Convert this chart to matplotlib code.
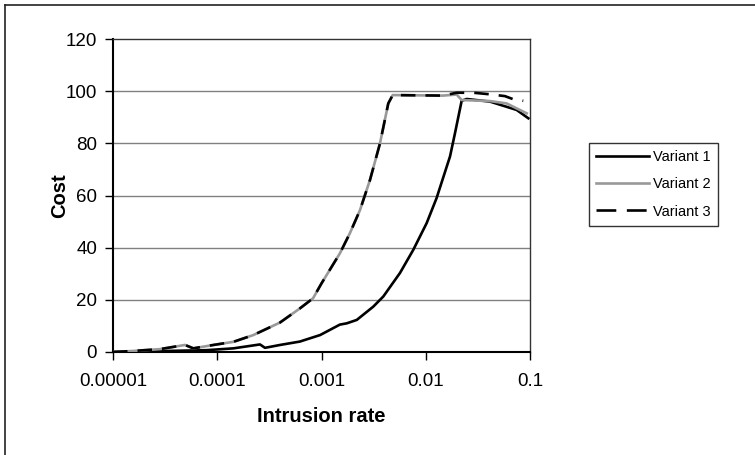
import matplotlib
matplotlib.use("Agg")
import matplotlib.pyplot as plt
from matplotlib.lines import Line2D

plt.rcParams['font.family'] = ['Liberation Sans', 'DejaVu Sans']

# ---- data ----
v1_x = [1e-5, 7.9e-5, 1.43e-4, 2.57e-4, 2.87e-4, 4.0e-4, 6.2e-4, 9.7e-4, 1.5e-3, 1.75e-3,
        2.18e-3, 3.14e-3, 3.92e-3, 5.66e-3, 7.6e-3, 1.02e-2, 1.27e-2, 1.71e-2, 1.91e-2,
        2.21e-2, 2.47e-2, 4.13e-2, 5.97e-2, 7.45e-2, 9.64e-2]
v1_y = [0.0, 0.7, 1.4, 2.9, 1.6, 2.7, 4.0, 6.5, 10.5, 11.0,
        12.3, 17.4, 21.3, 30.3, 39.2, 49.4, 59.0, 75.0, 84.0,
        96.3, 97.0, 96.0, 94.0, 92.8, 89.6]

v2_x = [1e-5, 1.57e-5, 2.82e-5, 4.91e-5, 5.89e-5, 9.2e-5, 1.43e-4, 2.22e-4, 4.0e-4,
        6.2e-4, 8.3e-4, 1.0e-3, 1.5e-3, 1.87e-3, 2.34e-3, 2.92e-3, 3.64e-3, 4.37e-3,
        4.82e-3, 1.46e-2, 1.98e-2, 2.21e-2, 4.13e-2, 5.97e-2, 9.3e-2]
v2_y = [0.0, 0.4, 1.1, 2.7, 1.4, 2.7, 3.9, 6.5, 11.3,
        16.7, 20.6, 26.3, 37.8, 45.5, 54.4, 66.0, 80.0, 95.3,
        98.5, 98.3, 98.7, 96.6, 96.2, 95.3, 91.5]

v3_x = [1e-5, 1.57e-5, 2.82e-5, 4.91e-5, 5.89e-5, 9.2e-5, 1.43e-4, 2.22e-4, 4.0e-4,
        6.2e-4, 8.3e-4, 1.0e-3, 1.5e-3, 1.87e-3, 2.34e-3, 2.92e-3, 3.64e-3, 4.37e-3,
        4.82e-3, 1.46e-2, 1.98e-2, 2.86e-2, 4.13e-2, 5.75e-2, 6.92e-2, 8.62e-2]
v3_y = [0.0, 0.4, 1.1, 2.7, 1.4, 2.7, 3.9, 6.5, 11.3,
        16.7, 20.6, 26.3, 37.8, 45.5, 54.4, 66.0, 80.0, 95.3,
        98.5, 98.3, 99.4, 99.4, 98.8, 98.1, 96.9, 96.3]

series_names = ["Variant 1", "Variant 2", "Variant 3"]
x_ticks = [1e-5, 1e-4, 1e-3, 1e-2, 1e-1]
x_tick_labels = ["0.00001", "0.0001", "0.001", "0.01", "0.1"]
y_ticks = [0, 20, 40, 60, 80, 100, 120]

W, H = 755, 455
fig = plt.figure(figsize=(W / 100, H / 100), dpi=100)
fig.patch.set_facecolor('white')

ax = fig.add_axes([113 / W, 1 - 352 / H, (530 - 113) / W, (352 - 39) / H])
ax.set_xscale('log')
ax.set_xlim(1e-5, 1e-1)
ax.set_ylim(0, 120)

lw = 1.9
ax.plot(v1_x, v1_y, color='black', lw=lw, solid_joinstyle='round', zorder=3)
ax.plot(v2_x, v2_y, color='#999999', lw=lw, solid_joinstyle='round', zorder=4)
ax.plot(v3_x, v3_y, color='black', lw=lw, dashes=(5.5, 3.8), zorder=5)

ax.set_xticks(x_ticks)
ax.set_xticklabels(x_tick_labels)
ax.xaxis.set_minor_locator(matplotlib.ticker.NullLocator())
ax.set_yticks(y_ticks)
ax.tick_params(axis='both', direction='out', length=6, width=1, labelsize=13.5, colors='black')
ax.tick_params(axis='y', pad=5.5)
ax.tick_params(axis='x', pad=9)

for y in y_ticks[1:-1]:
    ax.axhline(y, color='#808080', lw=1, zorder=1)

for s in ['left', 'bottom']:
    ax.spines[s].set_color('black')
    ax.spines[s].set_linewidth(1.5)
for s in ['top', 'right']:
    ax.spines[s].set_color('#333333')
    ax.spines[s].set_linewidth(1.0)

ax.set_xlabel("Intrusion rate", fontsize=14.5, fontweight='bold', labelpad=12)
ax.set_ylabel("Cost", fontsize=14.5, fontweight='bold')
ax.yaxis.set_label_coords((69 - 113) / (530 - 113), 0.5)

handles = [Line2D([], [], color='black', lw=lw),
           Line2D([], [], color='#999999', lw=lw),
           Line2D([], [], color='black', lw=lw, dashes=(7.5, 4.0))]
leg = fig.legend(handles, series_names, loc='upper left',
                 bbox_to_anchor=(589 / W, 1 - 143 / H), bbox_transform=fig.transFigure,
                 borderaxespad=0, fontsize=10.5, handlelength=3.6, handletextpad=0.3,
                 labelspacing=0.9, borderpad=0.5, fancybox=False, frameon=True)
leg.get_frame().set_edgecolor('black')
leg.get_frame().set_linewidth(1.0)

# outer border (top and left only visible)
fig.add_artist(Line2D([5 / W, 1], [1 - 4.5 / H, 1 - 4.5 / H], color='#222222', lw=1.2,
                      transform=fig.transFigure))
fig.add_artist(Line2D([5 / W, 5 / W], [0, 1 - 4.5 / H], color='#222222', lw=1.2,
                      transform=fig.transFigure))

fig.savefig("out.png", dpi=100)
